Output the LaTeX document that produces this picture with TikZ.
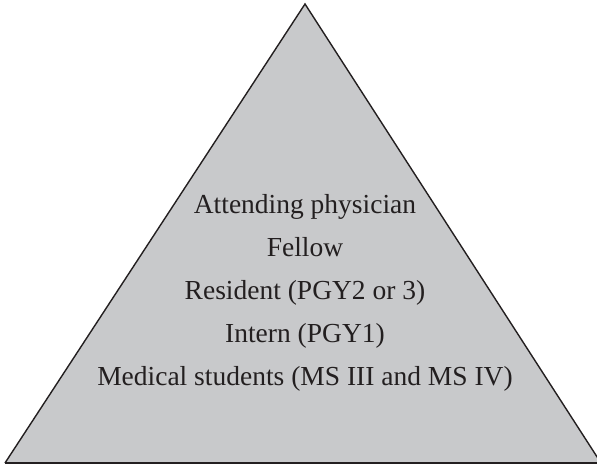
\documentclass[tikz,border=0pt]{standalone}
\usepackage{fontspec}
\setmainfont{Liberation Serif}
\definecolor{tri}{HTML}{C8C9CB}
\definecolor{ink}{HTML}{231F20}
\begin{document}
\begin{tikzpicture}[x=1pt,y=1pt,
  lvl/.style={font=\fontsize{27.5}{27.5}\selectfont, text=ink, inner sep=0pt, anchor=base}]
\useasboundingbox (0,0) rectangle (597,466);
\coordinate (apex) at (305,462);
\coordinate (bl) at (5,3);
\coordinate (br) at (601,3);
\fill[tri] (bl) -- (apex) -- (br) -- cycle;
\draw[ink, line width=1.4pt, line join=miter] (bl) -- (apex) -- (br);
\draw[ink, line width=2.4pt] (bl) -- (br);
\node[lvl] (a) at (305,252) {Attending physician};
\node[lvl] (f) at (305,209) {Fellow};
\node[lvl] (r) at (305,166) {Resident (PGY2 or 3)};
\node[lvl] (i) at (305,123) {Intern (PGY1)};
\node[lvl] (m) at (305,81) {Medical students (MS III and MS IV)};
\end{tikzpicture}
\end{document}
